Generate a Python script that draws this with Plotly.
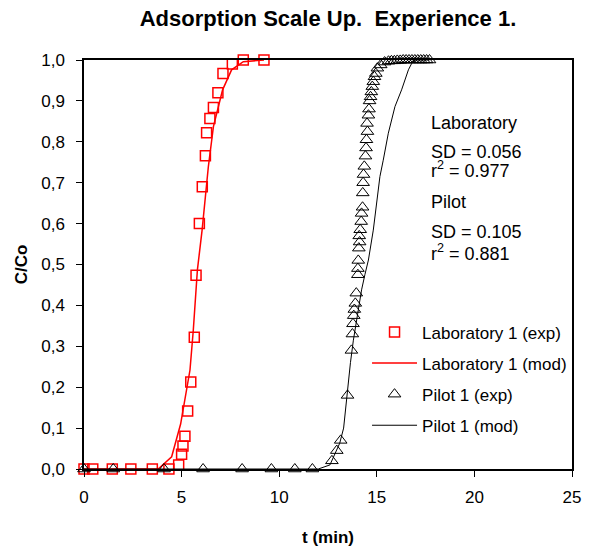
import plotly.graph_objects as go

# Laboratory experimental
lab_exp_t = [0, 0.45, 1.45, 2.4, 3.5, 4.35, 4.85, 5.0, 5.07, 5.17, 5.31, 5.47, 5.65, 5.74,
             5.91, 6.06, 6.22, 6.28, 6.45, 6.63, 6.86, 7.12, 7.6, 8.16, 9.22]
lab_exp_c = [0, 0, 0, 0, 0, 0, 0.01, 0.036, 0.056, 0.08, 0.142, 0.213, 0.322, 0.474,
             0.60, 0.69, 0.766, 0.822, 0.857, 0.884, 0.92, 0.967, 0.99, 1.0, 1.0]
# Laboratory model
lab_mod_t = [0, 3.8, 4.49, 4.95, 5.43, 5.6, 5.81, 6.05, 6.37, 6.63, 7.1, 7.56, 8.16, 9.22]
lab_mod_c = [0, 0, 0.03, 0.11, 0.242, 0.34, 0.487, 0.584, 0.739, 0.837, 0.927, 0.976, 0.996, 1.0]
# Pilot experimental
pil_exp_t = [0, 1.5, 4.1, 6.1, 8.1, 9.6, 10.8, 11.7, 12.7, 12.95, 13.15, 13.5, 13.7, 13.75,
             13.78, 13.82, 13.85, 13.9, 13.95, 14.03, 14.03, 14.05, 14.08, 14.12, 14.1, 14.15,
             14.2, 14.22, 14.27, 14.28, 14.3, 14.32, 14.36, 14.42, 14.45, 14.47, 14.52, 14.5,
             14.57, 14.6, 14.63, 14.68, 14.72, 14.77, 14.82, 14.88, 14.95, 15.03, 15.2, 15.4,
             15.6, 15.75, 15.9, 16.05, 16.2, 16.35, 16.5, 16.65, 16.8, 16.95, 17.1, 17.25,
             17.4, 17.55, 17.7]
pil_exp_c = [0, 0, 0, 0, 0, 0, 0, 0, 0.02, 0.045, 0.07, 0.18, 0.29, 0.33,
             0.355, 0.375, 0.39, 0.405, 0.43, 0.475, 0.49, 0.51, 0.54, 0.555, 0.57, 0.585,
             0.605, 0.625, 0.64, 0.675, 0.70, 0.72, 0.74, 0.765, 0.785, 0.805, 0.825, 0.845,
             0.865, 0.88, 0.90, 0.91, 0.922, 0.935, 0.947, 0.959, 0.967, 0.98, 0.988, 0.995,
             0.997, 0.998, 0.998, 0.999, 0.999, 1.0, 1.0, 1.0, 1.0, 1.0, 1.0, 1.0,
             1.0, 1.0, 1.0]
# Pilot model
pil_mod_t = [0, 12.0, 12.6, 13.1, 13.3, 13.4, 13.55, 13.65, 13.8, 13.97, 14.1, 14.22, 14.39,
             14.57, 14.82, 15.0, 15.16, 15.33, 15.59, 15.93, 16.27, 16.62, 16.79, 16.96, 17.7]
pil_mod_c = [0, 0, 0.01, 0.063, 0.10, 0.15, 0.22, 0.26, 0.315, 0.364, 0.405, 0.438, 0.475,
             0.511, 0.584, 0.65, 0.715, 0.755, 0.821, 0.886, 0.927, 0.976, 0.992, 1.0, 1.0]

x_ticks = [0, 5, 10, 15, 20, 25]
y_ticks = [0, 0.1, 0.2, 0.3, 0.4, 0.5, 0.6, 0.7, 0.8, 0.9, 1.0]

stats_text = ["Laboratory", "SD = 0.056", "r<sup>2</sup> = 0.977",
              "Pilot", "SD = 0.105", "r<sup>2</sup> = 0.881"]
stats_y = [0.845, 0.775, 0.733, 0.652, 0.580, 0.530]

FONT = "Liberation Sans, Arial, sans-serif"

fig = go.Figure()
fig.add_trace(go.Scatter(x=lab_exp_t, y=lab_exp_c, mode="markers", name="Laboratory 1 (exp)",
                         marker=dict(symbol="square-open", size=10, color="#ff0000", line=dict(width=1.5)),
                         cliponaxis=False, legendgroup="a"))
fig.add_trace(go.Scatter(x=lab_mod_t, y=lab_mod_c, mode="lines", name="Laboratory 1 (mod)",
                         line=dict(color="#ff0000", width=1.5), cliponaxis=False, legendgroup="b"))
fig.add_trace(go.Scatter(x=pil_exp_t, y=pil_exp_c, mode="markers", name="Pilot 1 (exp)",
                         marker=dict(symbol="triangle-up-open", size=11, color="#000000", line=dict(width=1)),
                         cliponaxis=False, legendgroup="c"))
fig.add_trace(go.Scatter(x=pil_mod_t, y=pil_mod_c, mode="lines", name="Pilot 1 (mod)",
                         line=dict(color="#000000", width=1), cliponaxis=False, legendgroup="d"))

for txt, yy in zip(stats_text, stats_y):
    fig.add_annotation(text=txt, xref="paper", yref="paper", x=0.707, y=yy,
                       xanchor="left", yanchor="middle", showarrow=False,
                       font=dict(family=FONT, size=18, color="black"))

fig.update_layout(
    width=597, height=548,
    margin=dict(l=84, r=25, t=60, b=79, autoexpand=False),
    paper_bgcolor="white", plot_bgcolor="white",
    separators=",.",
    font=dict(family=FONT, size=17, color="black"),
    title=dict(text="<b>Adsorption Scale Up.  Experience 1.</b>", x=0.5, xref="paper",
               y=1 - 18 / 548, yanchor="middle", font=dict(size=22)),
    showlegend=True,
    legend=dict(x=0.58, y=0.378, xanchor="left", yanchor="top", bgcolor="rgba(0,0,0,0)",
                font=dict(size=17), tracegroupgap=6, itemwidth=45),
    xaxis=dict(range=[0, 25], tickvals=x_ticks, showline=True, linecolor="black", linewidth=1.5,
               mirror=True, ticks="outside", ticklen=6, tickcolor="black", showgrid=False,
               zeroline=False, ticklabelstandoff=6, automargin=False,
               title=dict(text="<b>t (min)</b>", font=dict(size=17), standoff=25)),
    yaxis=dict(range=[0, 1], tickvals=y_ticks, tickformat=".1f", showline=True, linecolor="black",
               linewidth=1.5, mirror=True, ticks="outside", ticklen=6, tickcolor="black",
               showgrid=False, zeroline=False, ticklabelstandoff=8, automargin=False,
               title=dict(text="<b>C/Co</b>", font=dict(size=17), standoff=9)),
)

fig.write_html("out.html", config={"displayModeBar": False},
               post_script="document.body.style.margin='0px';")
